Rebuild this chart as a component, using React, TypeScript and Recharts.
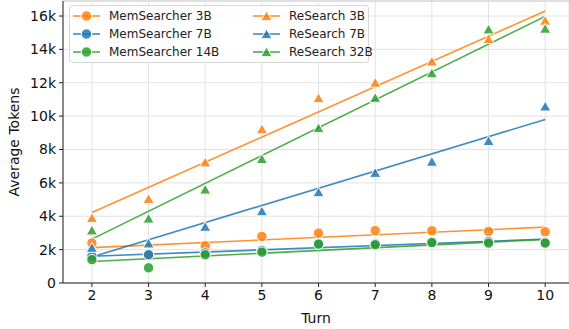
import React from 'react'
import {
  ComposedChart, Line, Scatter, XAxis, YAxis, CartesianGrid, Legend, ReferenceLine
} from 'recharts'

const turns = [2, 3, 4, 5, 6, 7, 8, 9, 10]

// average tokens per turn
const memSearcher3B = [2400, 1700, 2230, 2790, 2990, 3140, 3130, 3090, 3070]
const memSearcher7B = [1590, 1690, 1800, 1950, 2350, 2350, 2400, 2490, 2450]
const memSearcher14B = [1400, 910, 1690, 1850, 2330, 2290, 2430, 2390, 2390]
const research3B = [3880, 5020, 7210, 9200, 11060, 11990, 13250, 14600, 15700]
const research7B = [2090, 2350, 3350, 4280, 5420, 6580, 7250, 8490, 10560]
const research32B = [3130, 3840, 5580, 7410, 9260, 11080, 12550, 15180, 15220]

// fitted trend lines: value at first and last turn
const fitTurns = [2, 10]
const memSearcher3BFit = [2120, 3350]
const memSearcher7BFit = [1600, 2630]
const memSearcher14BFit = [1290, 2610]
const research3BFit = [4220, 16300]
const research7BFit = [1560, 9800]
const research32BFit = [2630, 15980]

const yTicks = [0, 2000, 4000, 6000, 8000, 10000, 12000, 14000, 16000]

const ORANGE = '#ff7f0e'
const BLUE = '#1f77b4'
const GREEN = '#2ca02c'
const FONT = '"DejaVu Sans", sans-serif'

type Series = { name: string; values: number[]; fit: number[]; color: string; marker: 'circle' | 'triangle' }

const circles: Series[] = [
  { name: 'MemSearcher 3B', values: memSearcher3B, fit: memSearcher3BFit, color: ORANGE, marker: 'circle' },
  { name: 'MemSearcher 7B', values: memSearcher7B, fit: memSearcher7BFit, color: BLUE, marker: 'circle' },
  { name: 'MemSearcher 14B', values: memSearcher14B, fit: memSearcher14BFit, color: GREEN, marker: 'circle' },
]
const triangles: Series[] = [
  { name: 'ReSearch 3B', values: research3B, fit: research3BFit, color: ORANGE, marker: 'triangle' },
  { name: 'ReSearch 7B', values: research7B, fit: research7BFit, color: BLUE, marker: 'triangle' },
  { name: 'ReSearch 32B', values: research32B, fit: research32BFit, color: GREEN, marker: 'triangle' },
]
const allSeries = [...circles, ...triangles]

const points = (vals: number[]) => turns.map((t, i) => ({ turn: t, v: vals[i] }))
const fitPoints = (vals: number[]) => fitTurns.map((t, i) => ({ turn: t, v: vals[i] }))

function Marker({ cx, cy, color, kind }: { cx: number; cy: number; color: string; kind: string }) {
  if (kind === 'circle') {
    return <circle cx={cx} cy={cy} r={5.2} fill={color} fillOpacity={0.85} stroke="#fff" strokeWidth={1} />
  }
  const s = 5.6
  const d = `M${cx},${cy - s} L${cx + s},${cy + s * 0.75} L${cx - s},${cy + s * 0.75} Z`
  return <path d={d} fill={color} fillOpacity={0.85} stroke="#fff" strokeWidth={1} />
}

function LegendBox() {
  const row = (s: Series) => (
    <div key={s.name} style={{ display: 'flex', alignItems: 'center', height: 18, whiteSpace: 'nowrap' }}>
      <svg width={28} height={12} style={{ marginRight: 8, flex: 'none' }}>
        <line x1={0} y1={6} x2={27} y2={6} stroke={s.color} strokeWidth={1.6} strokeOpacity={0.85} />
        <Marker cx={13.5} cy={s.marker === 'circle' ? 6 : 6.5} color={s.color} kind={s.marker} />
      </svg>
      <span>{s.name}</span>
    </div>
  )
  return (
    <div style={{
      position: 'relative', background: 'rgba(255,255,255,0.8)', border: '1px solid #d6d6d6', borderRadius: 3,
      fontFamily: FONT, fontSize: 12, color: '#222', boxSizing: 'border-box', width: 300, height: 58,
    }}>
      <div style={{ position: 'absolute', left: 3, top: 1 }}>{circles.map(row)}</div>
      <div style={{ position: 'absolute', left: 183, top: 1 }}>{triangles.map(row)}</div>
    </div>
  )
}

const labelStyle = { fontSize: 14, fill: '#111', fontFamily: FONT }

export default function App() {
  return (
    <div style={{ position: 'absolute', left: 0, top: 0, width: 569, height: 329, background: '#fff' }}>
      <ComposedChart width={569} height={329} margin={{ top: 1, right: 0, bottom: 0, left: 0 }}>
        <CartesianGrid stroke="#e3e3e3" strokeWidth={1} />
        <XAxis
          type="number"
          dataKey="turn"
          domain={[1.49, 10.42]}
          ticks={turns}
          allowDataOverflow
          height={46}
          tickSize={4}
          tickMargin={3}
          tick={{ fontSize: 14, fill: '#111', fontFamily: FONT }}
          stroke="#222"
          label={{ value: 'Turn', position: 'insideBottom', offset: 6, style: labelStyle }}
        />
        <YAxis
          type="number"
          domain={[0, 16900]}
          ticks={yTicks}
          allowDataOverflow
          width={63}
          tickSize={4}
          tickMargin={3}
          tickFormatter={(v: number) => (v === 0 ? '0' : `${v / 1000}k`)}
          tick={{ fontSize: 14, fill: '#111', fontFamily: FONT }}
          stroke="#222"
          label={{ value: 'Average Tokens', angle: -90, position: 'insideLeft', offset: 14, style: { ...labelStyle, textAnchor: 'middle' } }}
        />
        <ReferenceLine y={16900} stroke="#cfcfcf" />
        {allSeries.map((s) => (
          <Line
            key={s.name + '-fit'}
            data={fitPoints(s.fit)}
            dataKey="v"
            type="linear"
            stroke={s.color}
            strokeOpacity={0.85}
            strokeWidth={1.6}
            dot={false}
            activeDot={false}
            legendType="none"
            isAnimationActive={false}
          />
        ))}
        {allSeries.map((s) => (
          <Scatter
            key={s.name}
            name={s.name}
            data={points(s.values)}
            dataKey="v"
            isAnimationActive={false}
            shape={(p: any) => <Marker cx={p.cx} cy={p.cy} color={s.color} kind={s.marker} />}
          />
        ))}
        <Legend
          layout="vertical"
          align="center"
          verticalAlign="middle"
          wrapperStyle={{ left: 69, top: 5, width: 300, height: 58 }}
          content={() => <LegendBox />}
        />
      </ComposedChart>
    </div>
  )
}
